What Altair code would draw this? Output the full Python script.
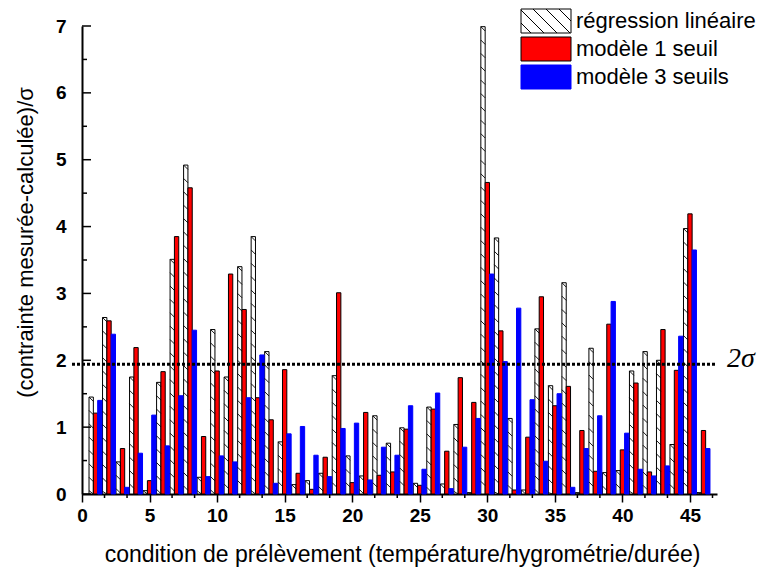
import altair as alt
import pandas as pd

# ---------------- data ----------------
conditions = list(range(1, 47))
regression_lineaire = [1.45, 2.64, 0.48, 1.75, 0.05, 1.67, 3.51, 4.92, 0.25, 2.46,
                       1.75, 3.40, 3.85, 2.13, 0.78, 0.14, 0.20, 0.31, 1.77, 0.57,
                       0.27, 1.17, 0.76, 0.99, 0.16, 1.30, 0.15, 1.04, 0.02, 6.99,
                       3.83, 1.13, 0.06, 2.47, 1.62, 3.16, 0.02, 2.18, 0.32, 0.35,
                       1.84, 2.13, 2.00, 0.74, 3.97, 0.02]
modele_1_seuil = [1.21, 2.59, 0.68, 2.19, 0.20, 1.83, 3.85, 4.58, 0.86, 1.84,
                  3.29, 2.76, 1.44, 1.11, 1.86, 0.31, 0.07, 0.55, 3.01, 0.17,
                  1.22, 0.28, 0.33, 0.97, 0.13, 1.27, 0.64, 1.74, 1.37, 4.66,
                  2.44, 0.06, 0.85, 2.95, 1.32, 1.61, 0.95, 0.34, 2.54, 0.66,
                  1.66, 0.33, 2.46, 1.85, 4.19, 0.95]
modele_3_seuils = [1.40, 2.39, 0.10, 0.61, 1.18, 0.72, 1.47, 2.45, 0.26, 0.57,
                   0.48, 1.44, 2.08, 0.16, 0.90, 1.01, 0.58, 0.26, 0.98, 1.06,
                   0.21, 0.70, 0.58, 1.32, 0.37, 1.51, 0.08, 0.70, 1.13, 3.29,
                   1.98, 2.78, 1.41, 0.49, 1.50, 0.10, 0.68, 1.17, 2.88, 0.91,
                   0.37, 0.27, 0.42, 2.36, 3.65, 0.68]
series = ["régression linéaire", "modèle 1 seuil", "modèle 3 seuils"]
seuil_2sigma = 1.94
x_ticks = [0, 5, 10, 15, 20, 25, 30, 35, 40, 45]
x_minor = [k * 5 / 3 for k in range(1, 29) if k % 3 != 0]
y_ticks = [0, 1, 2, 3, 4, 5, 6, 7]
y_minor = [0.5, 1.5, 2.5, 3.5, 4.5, 5.5, 6.5]

# ---------------- styling ----------------
FONT = "Liberation Sans"
BAR_W = 0.32
W, H = 635, 468

rows = []
for k, vals in enumerate([regression_lineaire, modele_1_seuil, modele_3_seuils]):
    for c, v in zip(conditions, vals):
        rows.append({"cond": c, "serie": series[k], "k": k, "v": v})
df = pd.DataFrame(rows)

xs = alt.Scale(domain=[0, 47], nice=False, zero=False)
ys = alt.Scale(domain=[0, 7], nice=False, zero=True)
fill_scale = alt.Scale(domain=series, range=["#ffffff", "#ff0000", "#0000ff"])
stroke_scale = alt.Scale(domain=series, range=["#000000", "#000000", "#0000ff"])

x_axis = alt.Axis(
    values=x_ticks, format="d", grid=False,
    domainColor="black", domainWidth=2,
    ticks=True, tickSize=8, tickWidth=1.5, tickColor="black",
    labelFont=FONT, labelFontSize=19, labelFontWeight="bold", labelColor="black",
    labelPadding=4, labelFlush=False,
    title="condition de prélèvement (température/hygrométrie/durée)",
    titleFont=FONT, titleFontSize=23, titleFontWeight="normal", titleColor="black",
    titleX=320, titleY=67, titleAlign="center", titleBaseline="alphabetic",
)
y_axis = alt.Axis(
    values=y_ticks, format="d", grid=False,
    domainColor="black", domainWidth=2,
    ticks=False, tickSize=0,
    labelFont=FONT, labelFontSize=19, labelFontWeight="bold", labelColor="black",
    labelPadding=16, labelFlush=False,
    title="(contrainte mesurée-calculée)/σ",
    titleFont=FONT, titleFontSize=22, titleFontWeight="normal", titleColor="black",
    titleX=-57, titleY=216, titleAngle=-90, titleAlign="center", titleBaseline="middle",
)

bars = alt.Chart(df).transform_calculate(
    x0=f"datum.cond + (datum.k - 1) * {BAR_W} - {BAR_W / 2}",
    x1=f"datum.cond + (datum.k - 1) * {BAR_W} + {BAR_W / 2}",
).mark_bar(strokeWidth=1).encode(
    x=alt.X("x0:Q", scale=xs, axis=x_axis),
    x2="x1:Q",
    y=alt.Y("v:Q", scale=ys, axis=y_axis),
    y2=alt.datum(0),
    fill=alt.Fill("serie:N", scale=fill_scale, legend=None),
    stroke=alt.Stroke("serie:N", scale=stroke_scale, legend=None),
)

hatch = alt.Chart(df).transform_filter("datum.k == 0").transform_calculate(
    seq="sequence(0, datum.v, 0.2)"
).transform_flatten(["seq"]).transform_calculate(
    xa=f"datum.cond - {1.5 * BAR_W}",
    xb=f"datum.cond - {0.5 * BAR_W}",
    ya="datum.v - datum.seq",
    yb="max(datum.v - datum.seq - 0.065, 0)",
).mark_rule(color="black", strokeWidth=0.9).encode(
    x=alt.X("xa:Q", scale=xs, axis=x_axis),
    x2="xb:Q",
    y=alt.Y("ya:Q", scale=ys, axis=y_axis),
    y2="yb:Q",
)

xminor = alt.Chart(pd.DataFrame({"t": x_minor})).mark_rule(
    color="black", strokeWidth=1.5
).encode(x=alt.X("t:Q", scale=xs, axis=x_axis), y=alt.value(H), y2=alt.value(H + 4))

ymajor = alt.Chart(pd.DataFrame({"t": y_ticks})).mark_rule(
    color="black", strokeWidth=1.5
).encode(y=alt.Y("t:Q", scale=ys, axis=y_axis), x=alt.value(0), x2=alt.value(9))

yminor = alt.Chart(pd.DataFrame({"t": y_minor})).mark_rule(
    color="black", strokeWidth=1.5
).encode(y=alt.Y("t:Q", scale=ys, axis=y_axis), x=alt.value(0), x2=alt.value(5))

thr_df = pd.DataFrame({"s": [seuil_2sigma], "lab": ["2σ"]})
thr = alt.Chart(thr_df).mark_rule(
    color="black", strokeWidth=3, strokeDash=[3, 2]
).encode(y=alt.Y("s:Q", scale=ys, axis=y_axis), x=alt.value(-10), x2=alt.value(W))

thr_lab = alt.Chart(thr_df).mark_text(
    font="Liberation Serif", fontStyle="italic", fontSize=28,
    align="left", baseline="alphabetic", dy=3, color="black"
).encode(y=alt.Y("s:Q", scale=ys, axis=y_axis), x=alt.value(645), text="lab:N")

# ---------------- custom legend ----------------
leg_df = pd.DataFrame({"serie": series, "k": [0, 1, 2]})
leg_base = alt.Chart(leg_df).transform_calculate(
    ya="-17 + 28 * datum.k", yb="7 + 28 * datum.k", yc="-5 + 28 * datum.k"
)
leg_rect = leg_base.mark_rect(strokeWidth=1).encode(
    x=alt.value(439), x2=alt.value(489),
    y=alt.Y("ya:Q", scale=None, axis=None), y2="yb:Q",
    fill=alt.Fill("serie:N", scale=fill_scale, legend=None),
    stroke=alt.Stroke("serie:N", scale=stroke_scale, legend=None),
)
leg_hatch = leg_base.transform_filter("datum.k == 0").transform_calculate(
    seq="sequence(-14, 50, 13)"
).transform_flatten(["seq"]).transform_calculate(
    hx1="439 + max(datum.seq, 0)",
    hy1="-17 + max(-datum.seq, 0)",
    hx2="439 + min(datum.seq + 24, 50)",
    hy2="-17 + min(24, 50 - datum.seq)",
).mark_rule(color="black", strokeWidth=1).encode(
    x=alt.X("hx1:Q", scale=None, axis=None), x2="hx2:Q",
    y=alt.Y("hy1:Q", scale=None, axis=None), y2="hy2:Q",
)
leg_text = leg_base.mark_text(
    font=FONT, fontSize=22, align="left", baseline="middle", color="black"
).encode(
    x=alt.value(494), y=alt.Y("yc:Q", scale=None, axis=None), text="serie:N"
)

chart = alt.layer(
    bars, hatch, xminor, ymajor, yminor, thr, thr_lab, leg_rect, leg_hatch, leg_text
).properties(
    width=W, height=H,
    autosize=alt.AutoSizeParams(type="none"),
    padding={"left": 74, "top": 18, "right": 42, "bottom": 78},
    background="white",
).configure_view(stroke=None)

chart.save("out.html", embed_options={"renderer": "svg", "actions": False})
